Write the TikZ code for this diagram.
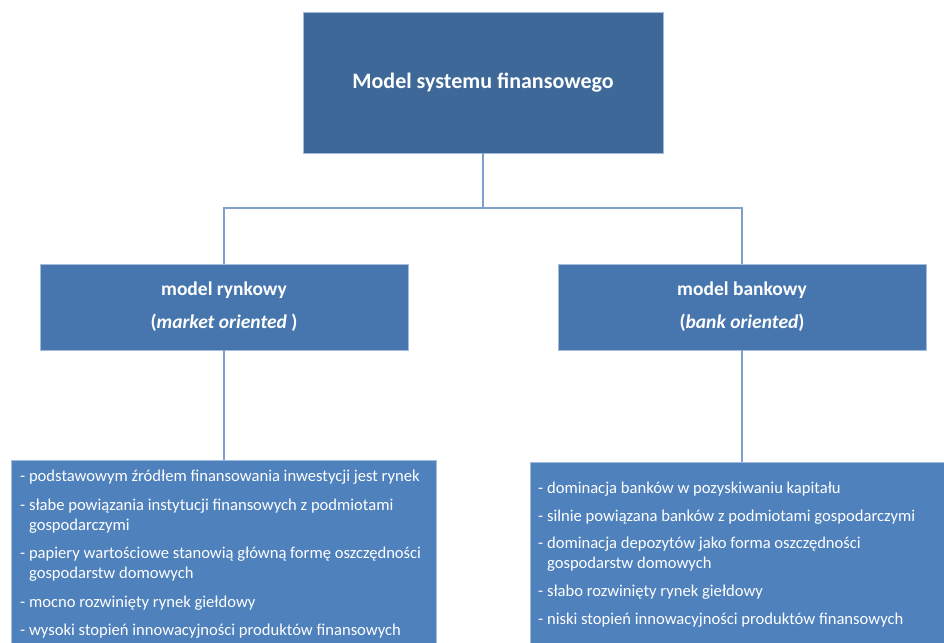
\documentclass[tikz,border=0pt]{standalone}
\usepackage{fontspec}
\setmainfont{Carlito}
\definecolor{topblue}{HTML}{3D6898}
\definecolor{midblue}{HTML}{4776AE}
\definecolor{botblue}{HTML}{4F81BD}
\definecolor{edgeblue}{HTML}{A3BCDE}
\definecolor{connblue}{HTML}{809FCF}
\tikzset{
  boxbase/.style={rectangle, draw=edgeblue, line width=0.8pt, inner sep=0pt, text=white},
  topbox/.style={boxbase, fill=topblue, minimum width=360pt, minimum height=141pt, font=\fontsize{22}{26}\selectfont\bfseries},
  midbox/.style={boxbase, fill=midblue, minimum width=368pt, minimum height=86pt, align=center, font=\fontsize{19.5}{23}\selectfont\bfseries},
  botbox/.style={boxbase, fill=botblue, minimum height=200pt},
  bottext/.style={anchor=north west, inner sep=0pt, text=white, align=left, font=\fontsize{16.6}{20}\selectfont},
  conn/.style={draw=connblue, line width=1.5pt}
}
\begin{document}
\begin{tikzpicture}[x=1pt,y=-1pt]
\useasboundingbox (0,0) rectangle (944,642);
\clip (0,0) rectangle (944,642);
\node[topbox] (top) at (483,82.5) {\raisebox{-2pt}{Model systemu finansowego}};
\node[midbox] (lmid) at (224,307) {model rynkowy\\[10pt](\textit{market oriented} )};
\node[midbox] (rmid) at (742,307) {model bankowy\\[10pt](\textit{bank oriented})};
\node[botbox, minimum width=425pt] (lbot) at (223.5,560) {};
\node[botbox, minimum width=420pt] (rbot) at (740,562) {};
\node[bottext] (ltext) at (20,470) {- podstawowym źródłem finansowania inwestycji jest rynek\\[8.5pt]
- słabe powiązania instytucji finansowych z podmiotami\\
\hphantom{- }gospodarczymi\\[8.5pt]
- papiery wartościowe stanowią główną formę oszczędności\\
\hphantom{- }gospodarstw domowych\\[8.5pt]
- mocno rozwinięty rynek giełdowy\\[8pt]
- wysoki stopień innowacyjności produktów finansowych};
\node[bottext] (rtext) at (538,482) {- dominacja banków w pozyskiwaniu kapitału\\[8pt]
- silnie powiązana banków z podmiotami gospodarczymi\\[7pt]
- dominacja depozytów jako forma oszczędności\\
\hphantom{- }gospodarstw domowych\\[8pt]
- słabo rozwinięty rynek giełdowy\\[8pt]
- niski stopień innowacyjności produktów finansowych};
\coordinate (j) at (483,208);
\draw[conn] (top.south) -- (j);
\draw[conn] (j) -| (lmid.north);
\draw[conn] (j) -| (rmid.north);
\draw[conn] (lmid.south) -- (lmid.south |- lbot.north);
\draw[conn] (rmid.south) -- (rmid.south |- rbot.north);
\end{tikzpicture}
\end{document}
